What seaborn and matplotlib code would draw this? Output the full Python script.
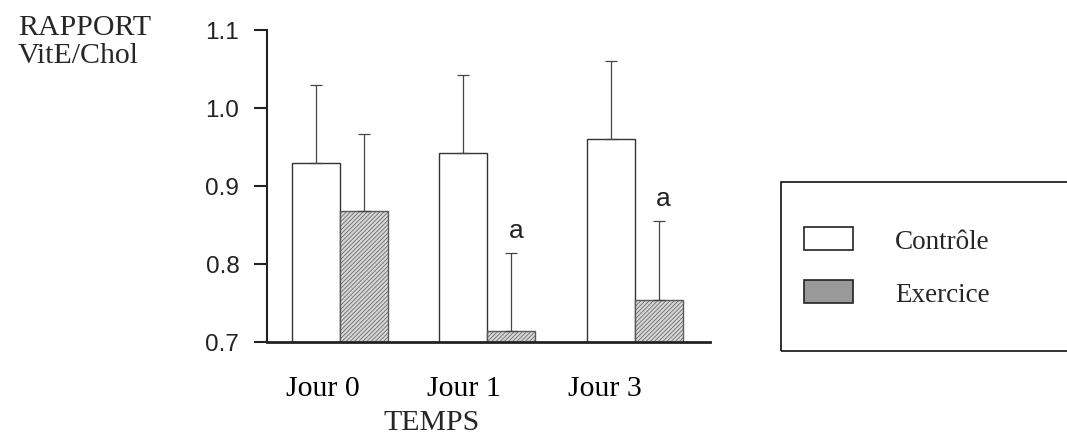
import matplotlib
matplotlib.use("Agg")
import matplotlib.pyplot as plt
import matplotlib.transforms as mtransforms
from matplotlib.patches import Patch, Rectangle
import numpy as np
import pandas as pd
import seaborn as sns

# ---- data ----
jours = ["Jour 0", "Jour 1", "Jour 3"]
groupes = ["Contrôle", "Exercice"]
controle = [0.929, 0.942, 0.960]
exercice = [0.868, 0.714, 0.754]
controle_err = [0.100, 0.100, 0.100]
exercice_err = [0.099, 0.100, 0.101]
signif_exercice = ["", "a", "a"]
yticks = [0.7, 0.8, 0.9, 1.0, 1.1]

df = pd.DataFrame({
    "Temps": jours * 2,
    "Groupe": [groupes[0]] * 3 + [groupes[1]] * 3,
    "Rapport": controle + exercice,
})

sns.set_style("white")
plt.rcParams["font.family"] = ["Liberation Serif", "DejaVu Serif"]
plt.rcParams["hatch.linewidth"] = 0.5

W, H = 1067, 435
fig = plt.figure(figsize=(W / 100, H / 100), dpi=100)
fig.patch.set_facecolor("white")
ax = fig.add_axes([267 / W, 1 - 343 / H, (710 - 267) / W, (343 - 30.7) / H])

sns.barplot(data=df, x="Temps", y="Rapport", hue="Groupe", order=jours,
            hue_order=groupes, palette=["white", "#d6d6d6"], width=0.65,
            errorbar=None, legend=False, ax=ax, saturation=1,
            edgecolor="#333333", linewidth=1.0)

# style exercise bars (hatch)
for bar in ax.containers[1]:
    bar.set_hatch("////////")
    bar.set_edgecolor("#5a5a5a")

# error bars (upper only)
errs = [controle_err, exercice_err]
for cont, err in zip(ax.containers, errs):
    xs = [b.get_x() + b.get_width() / 2 for b in cont]
    ys = [b.get_y() + b.get_height() for b in cont]
    ax.errorbar(xs, ys, yerr=[np.zeros(len(err)), err], fmt="none",
                ecolor="#444444", elinewidth=0.9, capsize=4, capthick=0.9,
                zorder=1)

# significance letters
for b, e, s in zip(ax.containers[1], exercice_err, signif_exercice):
    if s:
        ax.text(b.get_x() + b.get_width() / 2 + 0.03,
                b.get_y() + b.get_height() + e + 0.03, s,
                ha="center", va="center", fontsize=19,
                family=["Liberation Sans", "DejaVu Sans"], color="#222222")

ax.set_ylim(0.7, 1.1)
ax.set_xlim(-0.495, 2.51)
ax.set_yticks(yticks)
ax.set_yticklabels([f"{v:.1f}" for v in yticks],
                   family=["Liberation Sans", "DejaVu Sans"], fontsize=17.5,
                   color="#222222")
ax.tick_params(axis="y", direction="out", length=9.4, width=1.5,
               pad=10.5, color="#222222", left=True)
ax.tick_params(axis="x", length=0, pad=24, labelsize=21.5, labelcolor="black")
ax.set_xticks(range(len(jours)))
ax.set_xticklabels(jours)
shifts = [-17, -24, -30]
for lab, dx in zip(ax.get_xticklabels(), shifts):
    lab.set_transform(lab.get_transform() +
                      mtransforms.ScaledTranslation(dx / 100, 0, fig.dpi_scale_trans))
ax.set_xlabel("")
ax.set_ylabel("")
for side in ["top", "right"]:
    ax.spines[side].set_visible(False)
ax.spines["left"].set_linewidth(1.5)
ax.spines["left"].set_color("#222222")
ax.spines["bottom"].set_linewidth(2.0)
ax.spines["bottom"].set_color("#222222")
ax.set_facecolor("none")

# axis titles
fig.text(18 / W, 1 - 35 / H, "RAPPORT", fontsize=21.5, ha="left", va="baseline")
fig.text(18 / W, 1 - 63 / H, "VitE/Chol", fontsize=21.5, ha="left", va="baseline")
fig.text(431.7 / W, 1 - 430 / H, "TEMPS", fontsize=21.5, ha="center", va="baseline")

# legend frame
fig.patches.append(Rectangle((780.7 / W, 1 - 351.7 / H), (W + 20 - 780.7) / W,
                             (351.7 - 183) / H, transform=fig.transFigure,
                             fill=False, edgecolor="#111111", linewidth=1.2,
                             figure=fig))
handles = [Patch(facecolor="white", edgecolor="#222222", linewidth=1.2),
           Patch(facecolor="#999999", edgecolor="#222222", linewidth=1.2)]
fig.legend(handles, groupes, loc="upper left",
           bbox_to_anchor=(804 / W, 1 - 228 / H), frameon=False,
           fontsize=19.5, handlelength=1.81, handleheight=0.94,
           handletextpad=1.55, labelspacing=0.95, borderpad=0,
           borderaxespad=0)

fig.savefig("out.png", dpi=100)
